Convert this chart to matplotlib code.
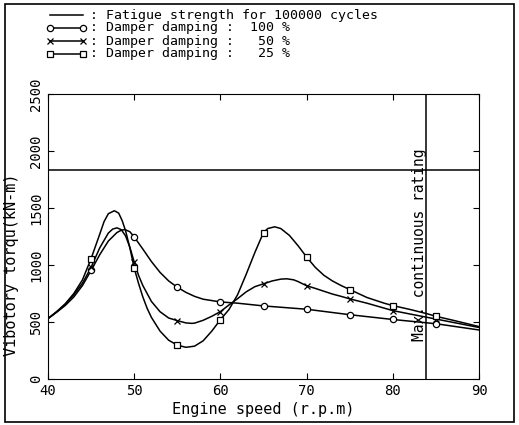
import matplotlib
matplotlib.use("Agg")
import matplotlib.pyplot as plt
from matplotlib.lines import Line2D
from matplotlib.patches import Rectangle

# marker points (every 5 r.p.m)
speed_pts = [45, 50, 55, 60, 65, 70, 75, 80, 85]
d100_pts = [952, 1246, 805, 676, 641, 612, 564, 522, 485]
d50_pts = [980, 1026, 512, 591, 835, 818, 703, 600, 526]
d25_pts = [1056, 973, 297, 520, 1285, 1070, 785, 644, 550]

# smooth curves
speed_100 = [40, 41, 42, 43, 44, 45, 46, 47, 48, 48.5, 48.9, 49.5, 50, 51, 52, 53, 54, 55,
             56, 57, 58, 59, 60, 62, 65, 70, 75, 80, 85, 90]
curve_100 = [530, 585, 645, 720, 820, 952, 1090, 1210, 1285, 1305, 1311, 1292, 1246, 1140,
             1030, 935, 860, 805, 760, 725, 700, 688, 676, 665, 641, 612, 564, 522, 485, 430]

speed_50 = [40, 41, 42, 43, 44, 45, 46, 47, 47.5, 48, 48.5, 49, 49.5, 50, 50.5, 51, 52, 53,
            54, 55, 56, 56.7, 57, 58, 59, 60, 61, 62, 63, 64, 65, 66, 67, 67.7, 68.5, 69,
            70, 71, 72, 73, 74, 75, 77, 80, 82, 85, 90]
curve_50 = [530, 590, 655, 740, 840, 980, 1150, 1280, 1315, 1326, 1310, 1255, 1155, 1026,
            910, 820, 680, 590, 535, 512, 492, 488, 490, 515, 550, 591, 650, 705, 765, 810,
            835, 860, 876, 879, 870, 855, 818, 795, 770, 745, 725, 703, 665, 600, 570,
            526, 452]

speed_25 = [40, 41, 42, 43, 44, 45, 46, 46.5, 47, 47.7, 48.2, 48.6, 49, 49.5, 50, 50.5,
            51, 51.5, 52, 53, 54, 55, 56, 57, 58, 59, 60, 61, 62, 63, 64, 65, 65.5, 66.3,
            67, 68, 69, 70, 71, 72, 73, 74, 75, 76, 77, 78, 79, 80, 82, 84, 85, 87, 90]
curve_25 = [530, 590, 660, 750, 870, 1056, 1270, 1380, 1450, 1476, 1455, 1390, 1300,
            1150, 973, 840, 720, 620, 540, 420, 340, 297, 278, 288, 335, 420, 520, 610,
            740, 920, 1110, 1285, 1320, 1335, 1320, 1260, 1170, 1070, 980, 910, 860, 820,
            785, 750, 715, 690, 665, 644, 610, 572, 550, 515, 460]

fatigue = 1830
mcr_speed = 83.9

xticks = [40, 50, 60, 70, 80, 90]
yticks = [0, 500, 1000, 1500, 2000, 2500]

mono = "DejaVu Sans Mono"
plt.rcParams['font.family'] = mono

fig = plt.figure(figsize=(5.19, 4.25), dpi=100)
ax = fig.add_axes([48 / 519, 1 - 379 / 425, 431 / 519, 285 / 425])

lw = 1.1
ax.plot(speed_100, curve_100, color="black", lw=lw)
ax.plot(speed_50, curve_50, color="black", lw=lw)
ax.plot(speed_25, curve_25, color="black", lw=lw)
ax.plot(speed_pts, d100_pts, ls="none", marker="o", ms=4.5, mfc="white", mec="black", mew=0.9)
ax.plot(speed_pts, d50_pts, ls="none", marker="x", ms=4.5, mec="black", mew=0.9)
ax.plot(speed_pts, d25_pts, ls="none", marker="s", ms=4.5, mfc="white", mec="black", mew=0.9)

ax.axhline(fatigue, color="black", lw=lw)
ax.axvline(mcr_speed, color="black", lw=lw)
ax.text(83.05, 1180, "Max. continuous rating", rotation=90, ha="center", va="center",
        fontsize=10.5, family=mono)

ax.set_xlim(40, 90)
ax.set_ylim(0, 2500)
ax.set_xticks(xticks)
ax.set_yticks(yticks)
ax.tick_params(direction="in", length=4, top=True, right=True, labelsize=10)
for lab in ax.get_yticklabels():
    lab.set_rotation(90)
    lab.set_va("center")
ax.set_xlabel("Engine speed (r.p.m)", fontsize=11, labelpad=3)
ax.set_ylabel("Vibotory torqu(kN-m)", fontsize=11)
ax.yaxis.set_label_coords(-0.068, 0.40)

# legend block at the top
rows = [15, 28, 41, 54]
labels = [": Fatigue strength for 100000 cycles",
          ": Damper damping :  100 %",
          ": Damper damping :   50 %",
          ": Damper damping :   25 %"]
markers = [None, "o", "x", "s"]
for y, lab, m in zip(rows, labels, markers):
    yf = 1 - y / 425
    fig.add_artist(Line2D([50 / 519, 83 / 519], [yf, yf], color="black", lw=lw,
                          marker=m, ms=4.5, mfc="white", mec="black", mew=0.9))
    fig.text(90 / 519, yf, lab, ha="left", va="center", fontsize=9.5, family=mono)

# frame around the whole figure
fig.add_artist(Rectangle((5 / 519, 3 / 425), 509 / 519, 418 / 425, fill=False,
                         ec="black", lw=1.2, transform=fig.transFigure))

fig.savefig("out.png", dpi=100)
